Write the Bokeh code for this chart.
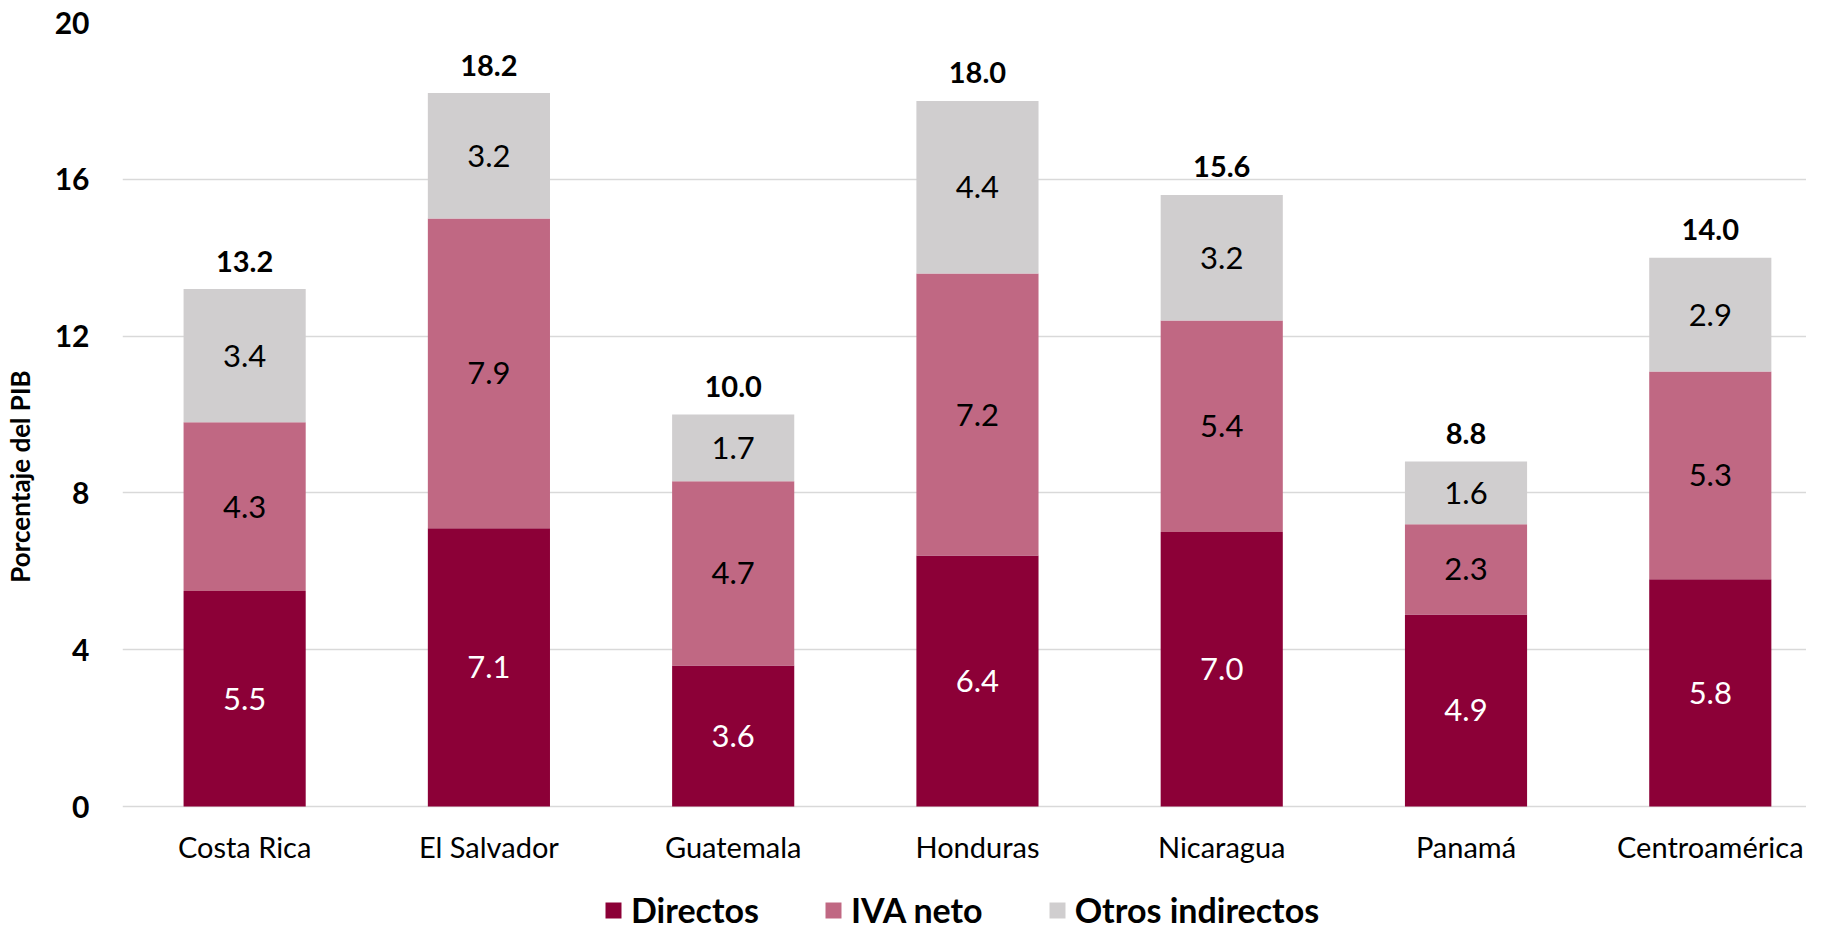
from bokeh.plotting import figure
from bokeh.models import ColumnDataSource, Range1d, FixedTicker, LabelSet, Legend, LegendItem
from bokeh.core.properties import value
from bokeh.embed import file_html
from bokeh.resources import INLINE

paises = ["Costa Rica", "El Salvador", "Guatemala", "Honduras", "Nicaragua", "Panamá", "Centroamérica"]
directos = [5.5, 7.1, 3.6, 6.4, 7.0, 4.9, 5.8]
iva_neto = [4.3, 7.9, 4.7, 7.2, 5.4, 2.3, 5.3]
otros = [3.4, 3.2, 1.7, 4.4, 3.2, 1.6, 2.9]
y_ticks = [0, 4, 8, 12, 16, 20]

FONT = "Lato"
C_DIR = "#8C0037"
C_IVA = "#C06883"
C_OTR = "#D0CECF"

# layout (pixels)
W = 1806
LEFT = 117
H = 930
TOP = 22
ZERO_Y = 806
STEP_PX = 245.0
PX_PER_UNIT = (ZERO_Y - TOP) / 20.0
y_start = -(H - ZERO_Y) / PX_PER_UNIT
x_end = (W - LEFT) / STEP_PX

totales = [round(a + b + c, 1) for a, b, c in zip(directos, iva_neto, otros)]
src = ColumnDataSource(dict(
    xpos=[i + 0.5 for i in range(len(paises))],
    pais=paises, Directos=directos, IVA=iva_neto, Otros=otros,
    zero=[0] * len(paises),
    m_dir=[d / 2 for d in directos],
    m_iva=[d + i / 2 for d, i in zip(directos, iva_neto)],
    m_otr=[d + i + o / 2 for d, i, o in zip(directos, iva_neto, otros)],
    t_dir=["%.1f" % v for v in directos],
    t_iva=["%.1f" % v for v in iva_neto],
    t_otr=["%.1f" % v for v in otros],
    total=totales,
    t_total=["%.1f" % v for v in totales],
))

p = figure(x_range=Range1d(0, x_end), y_range=Range1d(y_start, 20), width=W, height=H,
           output_backend="svg", toolbar_location=None,
           min_border_left=LEFT, min_border_right=0, min_border_top=TOP, min_border_bottom=0)
p.outline_line_color = None
p.background_fill_color = "white"
p.border_fill_color = "white"

r = p.vbar_stack(["Directos", "IVA", "Otros"], x="xpos", width=0.5, source=src,
                 color=[C_DIR, C_IVA, C_OTR], line_color=None)

p.xgrid.grid_line_color = None
p.ygrid.grid_line_color = "#D9D9D9"
p.ygrid.grid_line_width = 1.5
p.yaxis.ticker = FixedTicker(ticks=y_ticks)
p.yaxis.axis_line_color = None
p.yaxis.major_tick_line_color = None
p.yaxis.minor_tick_line_color = None
p.yaxis.major_label_text_font = FONT
p.yaxis.major_label_text_font_style = "bold"
p.yaxis.major_label_text_font_size = "30px"
p.yaxis.major_label_text_color = "black"
p.yaxis.major_label_standoff = 27
p.yaxis.axis_label = "Porcentaje del PIB"
p.yaxis.axis_label_text_font = FONT
p.yaxis.axis_label_text_font_style = "bold"
p.yaxis.axis_label_text_font_size = "26px"
p.yaxis.axis_label_text_color = "black"
p.yaxis.axis_label_standoff = 16

p.xaxis.visible = False

common = dict(source=src, x="xpos", text_align="center", text_baseline="middle",
              text_font=value(FONT))
p.add_layout(LabelSet(y="zero", text="pais", text_color="black", y_offset=-40,
                      text_font_size="29px", **common))
p.add_layout(LabelSet(y="m_dir", text="t_dir", text_color="white", text_font_size="31px", **common))
p.add_layout(LabelSet(y="m_iva", text="t_iva", text_color="black", text_font_size="31px", **common))
p.add_layout(LabelSet(y="m_otr", text="t_otr", text_color="black", text_font_size="31px", **common))
p.add_layout(LabelSet(y="total", text="t_total", text_color="black", y_offset=28,
                      text_font_style="bold", text_font_size="29px", **common))

legend = Legend(items=[LegendItem(label="Directos", renderers=[r[0]]),
                       LegendItem(label="IVA neto", renderers=[r[1]]),
                       LegendItem(label="Otros indirectos", renderers=[r[2]])],
                orientation="horizontal", location=(481, 0),
                label_text_font=FONT, label_text_font_style="bold",
                label_text_font_size="34px", label_text_color="black",
                glyph_width=20, glyph_height=20, label_standoff=8, spacing=64,
                padding=0, margin=0, border_line_color=None,
                background_fill_alpha=0)
p.add_layout(legend)

open("out.html", "w").write(file_html(p, INLINE))
